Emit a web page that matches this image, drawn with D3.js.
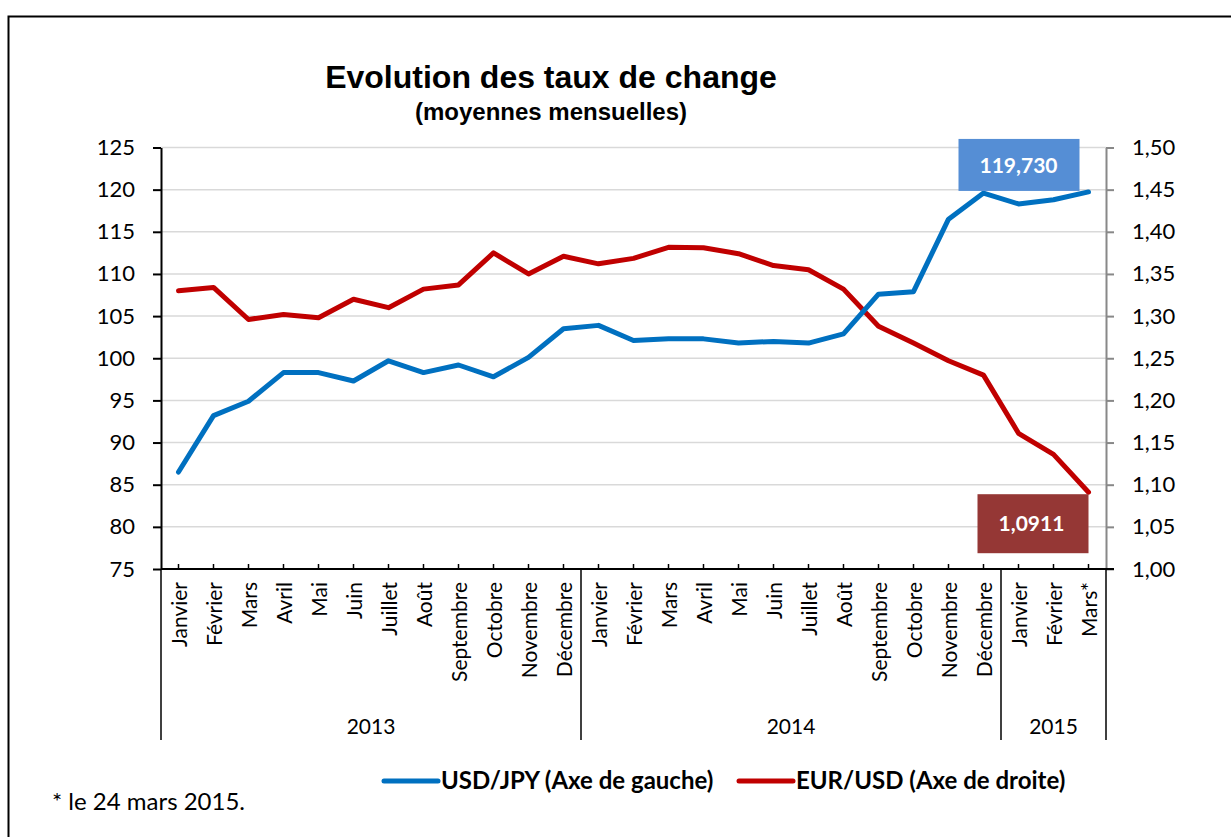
<!DOCTYPE html>
<html>
<head>
<meta charset="utf-8">
<script src="https://cdn.jsdelivr.net/npm/d3@7"></script>
<style>
  body { margin: 0; background: #fff; }
  svg { display: block; }
</style>
</head>
<body>
<svg id="chart"></svg>
<script>
// months (27 categories, jan 2013 -> mars 2015)
var months = ["Janvier", "Février", "Mars", "Avril", "Mai", "Juin", "Juillet", "Août",
  "Septembre", "Octobre", "Novembre", "Décembre",
  "Janvier", "Février", "Mars", "Avril", "Mai", "Juin", "Juillet", "Août",
  "Septembre", "Octobre", "Novembre", "Décembre",
  "Janvier", "Février", "Mars*"];
var years = ["2013", "2014", "2015"];
var yearCounts = [12, 12, 3];

// USD/JPY, left axis
var usdJpy = [86.5, 93.2, 94.9, 98.3, 98.3, 97.3, 99.7, 98.3, 99.2, 97.8, 100.1, 103.5,
  103.9, 102.1, 102.3, 102.3, 101.8, 102.0, 101.8, 102.9, 107.6, 107.9, 116.5, 119.6,
  118.3, 118.8, 119.73];
// EUR/USD, right axis
var eurUsd = [1.330, 1.334, 1.296, 1.302, 1.298, 1.320, 1.310, 1.332, 1.337, 1.375, 1.350, 1.371,
  1.362, 1.3685, 1.3816, 1.381, 1.374, 1.360, 1.355, 1.332, 1.288, 1.268, 1.247, 1.230,
  1.161, 1.136, 1.0911];

var leftTicks = [75, 80, 85, 90, 95, 100, 105, 110, 115, 120, 125];
var rightTicks = [1.00, 1.05, 1.10, 1.15, 1.20, 1.25, 1.30, 1.35, 1.40, 1.45, 1.50];

var width = 1231, height = 837;
var svg = d3.select("#chart").attr("width", width).attr("height", height);

var plotLeft = 161, plotRight = 1106, plotTop = 147.5, plotBottom = 569;

var x = d3.scaleBand().domain(d3.range(months.length)).range([plotLeft, plotRight]);
var cx = function(i) { return x(i) + x.bandwidth() / 2; };
var yL = d3.scaleLinear().domain([75, 125]).range([plotBottom, plotTop]);
var yR = d3.scaleLinear().domain([1, 1.5]).range([plotBottom, plotTop]);

var fr = d3.formatLocale({ decimal: ",", thousands: " ", grouping: [3], currency: ["", "€"] });

// outer frame
svg.append("rect")
  .attr("x", 8.5).attr("y", 16.5)
  .attr("width", 1300).attr("height", 900)
  .attr("fill", "none").attr("stroke", "#000").attr("stroke-width", 2);

// title
svg.append("text")
  .attr("x", 551).attr("y", 88)
  .attr("text-anchor", "middle")
  .style("font-family", "'Liberation Sans', Arial, sans-serif")
  .style("font-weight", "bold").style("font-size", "32px")
  .text("Evolution des taux de change");
svg.append("text")
  .attr("x", 551).attr("y", 120)
  .attr("text-anchor", "middle")
  .style("font-family", "'Liberation Sans', Arial, sans-serif")
  .style("font-weight", "bold").style("font-size", "24px")
  .text("(moyennes mensuelles)");

// gridlines
svg.append("g")
  .selectAll("line")
  .data(leftTicks.slice(1))
  .enter()
  .append("line")
  .attr("x1", plotLeft).attr("x2", plotRight)
  .attr("y1", d => yL(d)).attr("y2", d => yL(d))
  .attr("stroke", "#d9d9d9").attr("stroke-width", 1.5);

// left axis
var gL = svg.append("g")
  .attr("transform", "translate(" + plotLeft + ",0)")
  .call(d3.axisLeft(yL).tickValues(leftTicks).tickSize(8).tickPadding(18).tickSizeOuter(0));
gL.select(".domain").attr("stroke", "#000").attr("stroke-width", 2);
gL.selectAll(".tick line").attr("stroke", "#000").attr("stroke-width", 2);
gL.selectAll("text").style("font-size", "22px").attr("fill", "#000")
  .style("font-family", "Lato, sans-serif");

// right axis
var gR = svg.append("g")
  .attr("transform", "translate(" + plotRight + ",0)")
  .call(d3.axisRight(yR).tickValues(rightTicks).tickSize(8).tickPadding(18).tickSizeOuter(0)
    .tickFormat(fr.format(".2f")));
gR.select(".domain").attr("stroke", "#888").attr("stroke-width", 2);
gR.selectAll(".tick line").attr("stroke", "#888").attr("stroke-width", 2);
gR.selectAll("text").style("font-size", "22px").attr("fill", "#000")
  .style("font-family", "Lato, sans-serif");

// category axis
svg.append("line")
  .attr("x1", plotLeft).attr("x2", plotRight + 8)
  .attr("y1", plotBottom).attr("y2", plotBottom)
  .attr("stroke", "#000").attr("stroke-width", 2);

svg.append("g")
  .selectAll("line")
  .data(months)
  .enter()
  .append("line")
  .attr("x1", (d, i) => cx(i)).attr("x2", (d, i) => cx(i))
  .attr("y1", plotBottom - 5).attr("y2", plotBottom)
  .attr("stroke", "#000").attr("stroke-width", 1.5);

svg.append("g")
  .selectAll("text")
  .data(months)
  .enter()
  .append("text")
  .attr("transform", (d, i) => "translate(" + (cx(i) + 8) + "," + (plotBottom + 13) + ") rotate(-90)")
  .attr("text-anchor", "end")
  .style("font-family", "Lato, sans-serif")
  .style("font-size", "21px")
  .text(d => d);

// year groups
var starts = [0];
yearCounts.forEach((c, i) => starts.push(starts[i] + c));
svg.append("g")
  .selectAll("line")
  .data(starts)
  .enter()
  .append("line")
  .attr("x1", d => d < months.length ? x(d) : plotRight)
  .attr("x2", d => d < months.length ? x(d) : plotRight)
  .attr("y1", plotBottom).attr("y2", 740)
  .attr("stroke", "#000").attr("stroke-width", 1.5);

svg.append("g")
  .selectAll("text")
  .data(years)
  .enter()
  .append("text")
  .attr("x", (d, i) => {
    var a = x(starts[i]);
    var b = starts[i + 1] < months.length ? x(starts[i + 1]) : plotRight;
    return (a + b) / 2;
  })
  .attr("y", 734)
  .attr("text-anchor", "middle")
  .style("font-family", "Lato, sans-serif")
  .style("font-size", "21px")
  .text(d => d);

// series
var lineL = d3.line().x((d, i) => cx(i)).y(d => yL(d));
var lineR = d3.line().x((d, i) => cx(i)).y(d => yR(d));

svg.append("path")
  .datum(eurUsd)
  .attr("d", lineR)
  .attr("fill", "none").attr("stroke", "#c00000").attr("stroke-width", 5)
  .attr("stroke-linejoin", "round").attr("stroke-linecap", "round");

svg.append("path")
  .datum(usdJpy)
  .attr("d", lineL)
  .attr("fill", "none").attr("stroke", "#0070c0").attr("stroke-width", 5)
  .attr("stroke-linejoin", "round").attr("stroke-linecap", "round");

// last value labels
var last = months.length - 1;
var jx = cx(last), jy = yL(usdJpy[last]);
svg.append("rect")
  .attr("x", jx - 130).attr("y", jy - 53)
  .attr("width", 121).attr("height", 52)
  .attr("fill", "#558ed5");
svg.append("text")
  .attr("x", jx - 70).attr("y", jy - 19)
  .attr("text-anchor", "middle")
  .attr("fill", "#fff")
  .style("font-family", "Lato, sans-serif")
  .style("font-weight", "bold").style("font-size", "21px")
  .text(fr.format(".3f")(usdJpy[last]));

var ex = cx(last), ey = yR(eurUsd[last]);
svg.append("rect")
  .attr("x", ex - 111).attr("y", ey + 2)
  .attr("width", 111).attr("height", 59)
  .attr("fill", "#953735");
svg.append("text")
  .attr("x", ex - 57).attr("y", ey + 39)
  .attr("text-anchor", "middle")
  .attr("fill", "#fff")
  .style("font-family", "Lato, sans-serif")
  .style("font-weight", "bold").style("font-size", "21px")
  .text(fr.format(".4f")(eurUsd[last]));

// legend
var legend = [
  { name: "USD/JPY (Axe de gauche)", color: "#0070c0", x: 384 },
  { name: "EUR/USD (Axe de droite)", color: "#c00000", x: 739 }
];
var lg = svg.append("g")
  .selectAll("g")
  .data(legend)
  .enter()
  .append("g");
lg.append("line")
  .attr("x1", d => d.x).attr("x2", d => d.x + 54)
  .attr("y1", 781).attr("y2", 781)
  .attr("stroke", d => d.color).attr("stroke-width", 5)
  .attr("stroke-linecap", "round");
lg.append("text")
  .attr("x", d => d.x + 57).attr("y", 789)
  .style("font-family", "Lato, sans-serif")
  .style("font-weight", "bold").style("font-size", "24px")
  .text(d => d.name);

// footnote
svg.append("text")
  .attr("x", 52).attr("y", 810)
  .style("font-family", "Lato, sans-serif")
  .style("font-size", "24px")
  .text("* le 24 mars 2015.");
</script>
</body>
</html>
